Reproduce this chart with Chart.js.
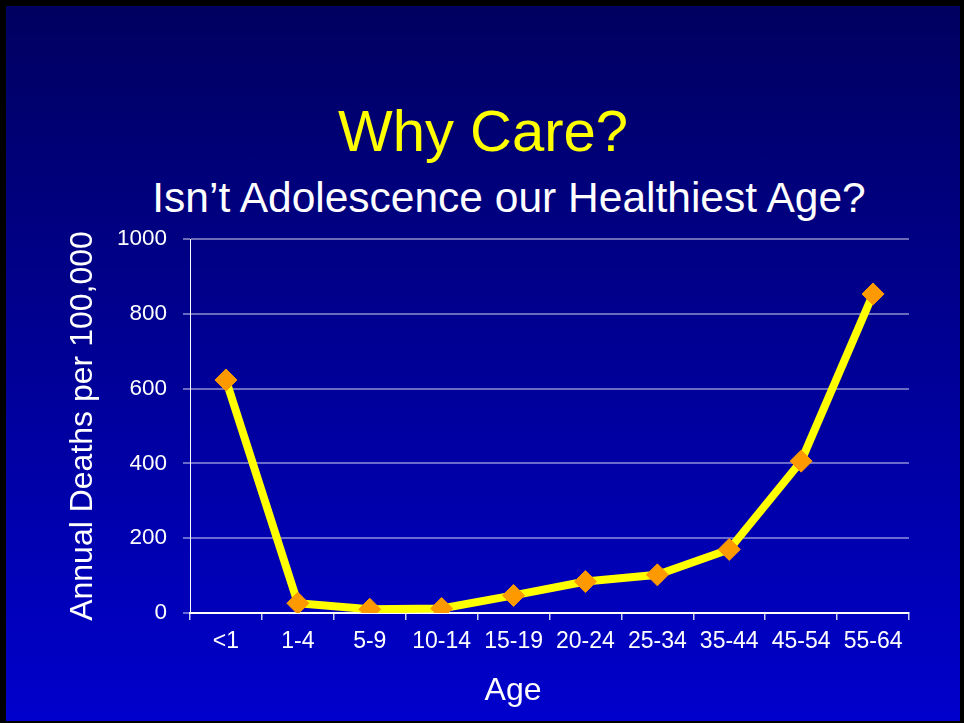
<!DOCTYPE html>
<html>
<head>
<meta charset="utf-8">
<title>Why Care?</title>
<script src="https://cdn.jsdelivr.net/npm/chart.js@4.4.0/dist/chart.umd.min.js"></script>
<style>
  html, body {
    margin: 0;
    padding: 0;
    width: 964px;
    height: 723px;
    background: #000;
    overflow: hidden;
    font-family: "Liberation Sans", Arial, sans-serif;
  }
  .slide {
    position: absolute;
    left: 6px;
    top: 6px;
    width: 954px;
    height: 715px;
    background: linear-gradient(to bottom, #000060 0%, #0000cc 100%);
  }
  .heading {
    position: absolute;
    line-height: 1;
    white-space: nowrap;
    transform: translateX(-50%);
  }
  #title { left: 483px; top: 102px; font-size: 58px; color: #ffff00; }
  #subtitle { left: 509px; top: 177px; font-size: 42.5px; color: #fff; }
  #xTitle { left: 513px; top: 673px; font-size: 32px; color: #fff; }
  .chart-box {
    position: absolute;
    left: 0;
    top: 0;
    width: 964px;
    height: 723px;
  }
</style>
</head>
<body>
<div class="slide"></div>
<div class="heading" id="title">Why Care?</div>
<div class="heading" id="subtitle">Isn’t Adolescence our Healthiest Age?</div>
<div class="chart-box"><canvas id="chart"></canvas></div>
<div class="heading" id="xTitle">Age</div>

<script>
// Age groups and death rates per 100,000
const ageGroups = ["<1", "1-4", "5-9", "10-14", "15-19", "20-24", "25-34", "35-44", "45-54", "55-64"];
const deathRates = [623, 26, 10, 12, 47, 84, 102, 170, 406, 853];
const yTicks = [0, 200, 400, 600, 800, 1000];

Chart.defaults.font.family = '"Liberation Sans", Arial, sans-serif';
Chart.defaults.color = "#fff";

const ctx = document.getElementById("chart").getContext("2d");

new Chart(ctx, {
  type: "line",
  data: {
    labels: ageGroups,
    datasets: [{
      label: "Annual Deaths per 100,000",
      data: deathRates,
      borderColor: "#ffff00",
      borderWidth: 8,
      tension: 0,
      pointStyle: "rectRot",
      pointRadius: 11,
      pointBackgroundColor: "#ff9900",
      pointBorderColor: "#ff9900",
      pointBorderWidth: 1,
      fill: false
    }]
  },
  options: {
    responsive: true,
    maintainAspectRatio: false,
    animation: false,
    layout: { padding: { left: 0, top: 239, right: 55, bottom: 0 } },
    plugins: {
      legend: { display: false },
      tooltip: { enabled: false }
    },
    scales: {
      x: {
        offset: true,
        afterFit: (scale) => { scale.height = 110; },
        grid: {
          offset: true,
          drawOnChartArea: false,
          color: "rgba(255,255,255,0.8)",
          lineWidth: 1.5,
          tickLength: 7
        },
        border: { color: "#fff", width: 2 },
        ticks: {
          color: "#fff",
          padding: 8,
          maxRotation: 0,
          autoSkip: false,
          font: { size: 23 }
        }
      },
      y: {
        min: 0,
        max: 1000,
        afterFit: (scale) => { scale.width = 190; },
        afterBuildTicks: (scale) => { scale.ticks = yTicks.map(v => ({ value: v })); },
        grid: {
          color: "rgba(255,255,255,0.42)",
          lineWidth: 2,
          tickLength: 7
        },
        border: { color: "#fff", width: 1 },
        ticks: {
          color: "#fff",
          padding: 16,
          font: { size: 22.5 },
          callback: (value) => String(value)
        },
        title: {
          display: true,
          text: "Annual Deaths per 100,000",
          color: "#fff",
          font: { size: 32 },
          padding: { top: 64, bottom: 0 }
        }
      }
    }
  }
});
</script>
</body>
</html>
